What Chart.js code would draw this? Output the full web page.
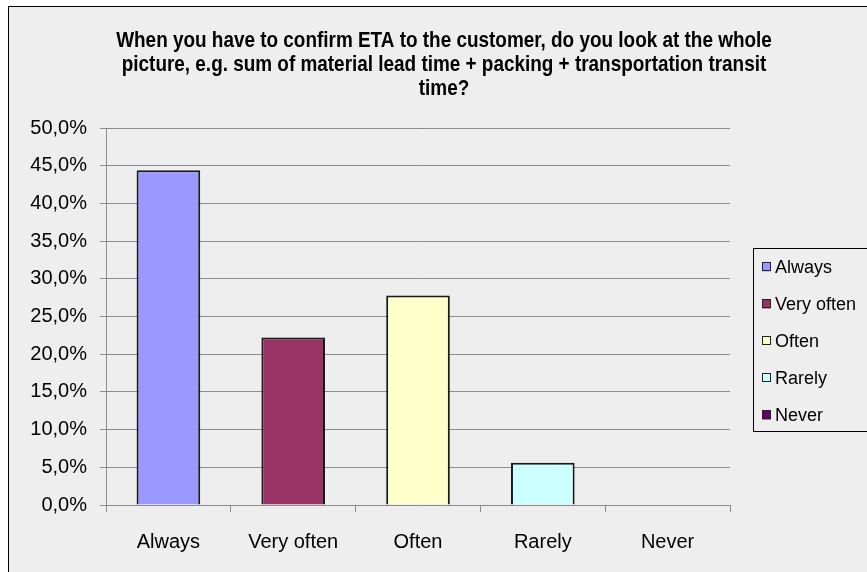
<!DOCTYPE html>
<html lang="en">

<head>
    <meta charset="UTF-8">
    <title>ETA confirmation survey</title>
    <script src="https://cdn.jsdelivr.net/npm/chart.js"></script>
    <style>
        body {
            margin: 0;
            background: #ffffff;
        }

        .chart-box {
            position: absolute;
            left: 8px;
            top: 6px;
            width: 858px;
            height: 566px;
            border-left: 1px solid #000;
            border-top: 1px solid #000;
            background: #eeeeee;
        }
    </style>
</head>

<body>
    <div class="chart-box">
        <canvas id="etaChart" width="858" height="566"></canvas>
    </div>

    <script>
        const titleLines = [
            'When you have to confirm ETA to the customer, do you look at the whole',
            'picture, e.g. sum of material lead time + packing + transportation transit',
            'time?'
        ];
        const categories = ['Always', 'Very often', 'Often', 'Rarely', 'Never'];
        const shares = [44.4, 22.2, 27.8, 5.6, 0];
        const barColors = ['#9999ff', '#993366', '#ffffcc', '#ccffff', '#660066'];
        const yTicks = [0, 5, 10, 15, 20, 25, 30, 35, 40, 45, 50];

        const gridColor = '#8c8c8c';
        const labelFont = { family: '"Liberation Sans", Arial, sans-serif', size: 20 };

        // condensed bold title like the excel original
        const narrowTitle = {
            id: 'narrowTitle',
            afterDraw(chart) {
                const ctx = chart.ctx;
                ctx.save();
                ctx.font = 'bold 22px "Liberation Sans", Arial, sans-serif';
                ctx.fillStyle = '#000';
                ctx.textAlign = 'center';
                ctx.textBaseline = 'alphabetic';
                titleLines.forEach((line, i) => {
                    ctx.save();
                    ctx.translate(435, 40 + i * 24);
                    ctx.scale(0.86, 1);
                    ctx.fillText(line, 0, 0);
                    ctx.restore();
                });
                ctx.restore();
            }
        };

        // excel-style legend in a bordered box on the right
        const boxLegend = {
            id: 'boxLegend',
            afterDraw(chart) {
                const ctx = chart.ctx;
                const left = 744, top = 241, bottom = 424;
                ctx.save();
                ctx.strokeStyle = '#000';
                ctx.lineWidth = 1;
                ctx.strokeRect(left + 0.5, top + 0.5, 200, bottom - top);
                ctx.font = '18px "Liberation Sans", Arial, sans-serif';
                ctx.textBaseline = 'middle';
                categories.forEach((name, i) => {
                    const y = 260 + i * 37;
                    ctx.fillStyle = barColors[i];
                    ctx.fillRect(753, y - 4.5, 9, 9);
                    ctx.strokeStyle = '#222';
                    ctx.strokeRect(753.5, y - 4.5, 8, 8);
                    ctx.fillStyle = '#000';
                    ctx.fillText(name, 766, y + 1);
                });
                ctx.restore();
            }
        };

        new Chart(document.getElementById('etaChart'), {
            type: 'bar',
            data: {
                labels: categories,
                datasets: [{
                    data: shares,
                    backgroundColor: barColors,
                    borderColor: '#1a1a1a',
                    borderWidth: 2,
                    categoryPercentage: 1,
                    barPercentage: 0.51
                }]
            },
            options: {
                responsive: false,
                animation: false,
                devicePixelRatio: 1,
                layout: { padding: { left: 0, right: 137, top: 121, bottom: 0 } },
                plugins: {
                    legend: { display: false },
                    tooltip: { enabled: false },
                    title: { display: false }
                },
                scales: {
                    x: {
                        grid: { drawOnChartArea: false, color: gridColor, tickLength: 7 },
                        border: { color: gridColor },
                        ticks: { color: '#000', font: labelFont, padding: 18 },
                        afterFit(scale) { scale.height = 68; }
                    },
                    y: {
                        min: 0,
                        max: 50,
                        afterBuildTicks(scale) { scale.ticks = yTicks.map(v => ({ value: v })); },
                        grid: { color: gridColor, tickLength: 6 },
                        border: { color: gridColor },
                        ticks: {
                            color: '#000',
                            font: labelFont,
                            padding: 13,
                            callback: v => v.toFixed(1).replace('.', ',') + '%'
                        },
                        afterFit(scale) { scale.width = 97; }
                    }
                }
            },
            plugins: [narrowTitle, boxLegend]
        });
    </script>
</body>

</html>
